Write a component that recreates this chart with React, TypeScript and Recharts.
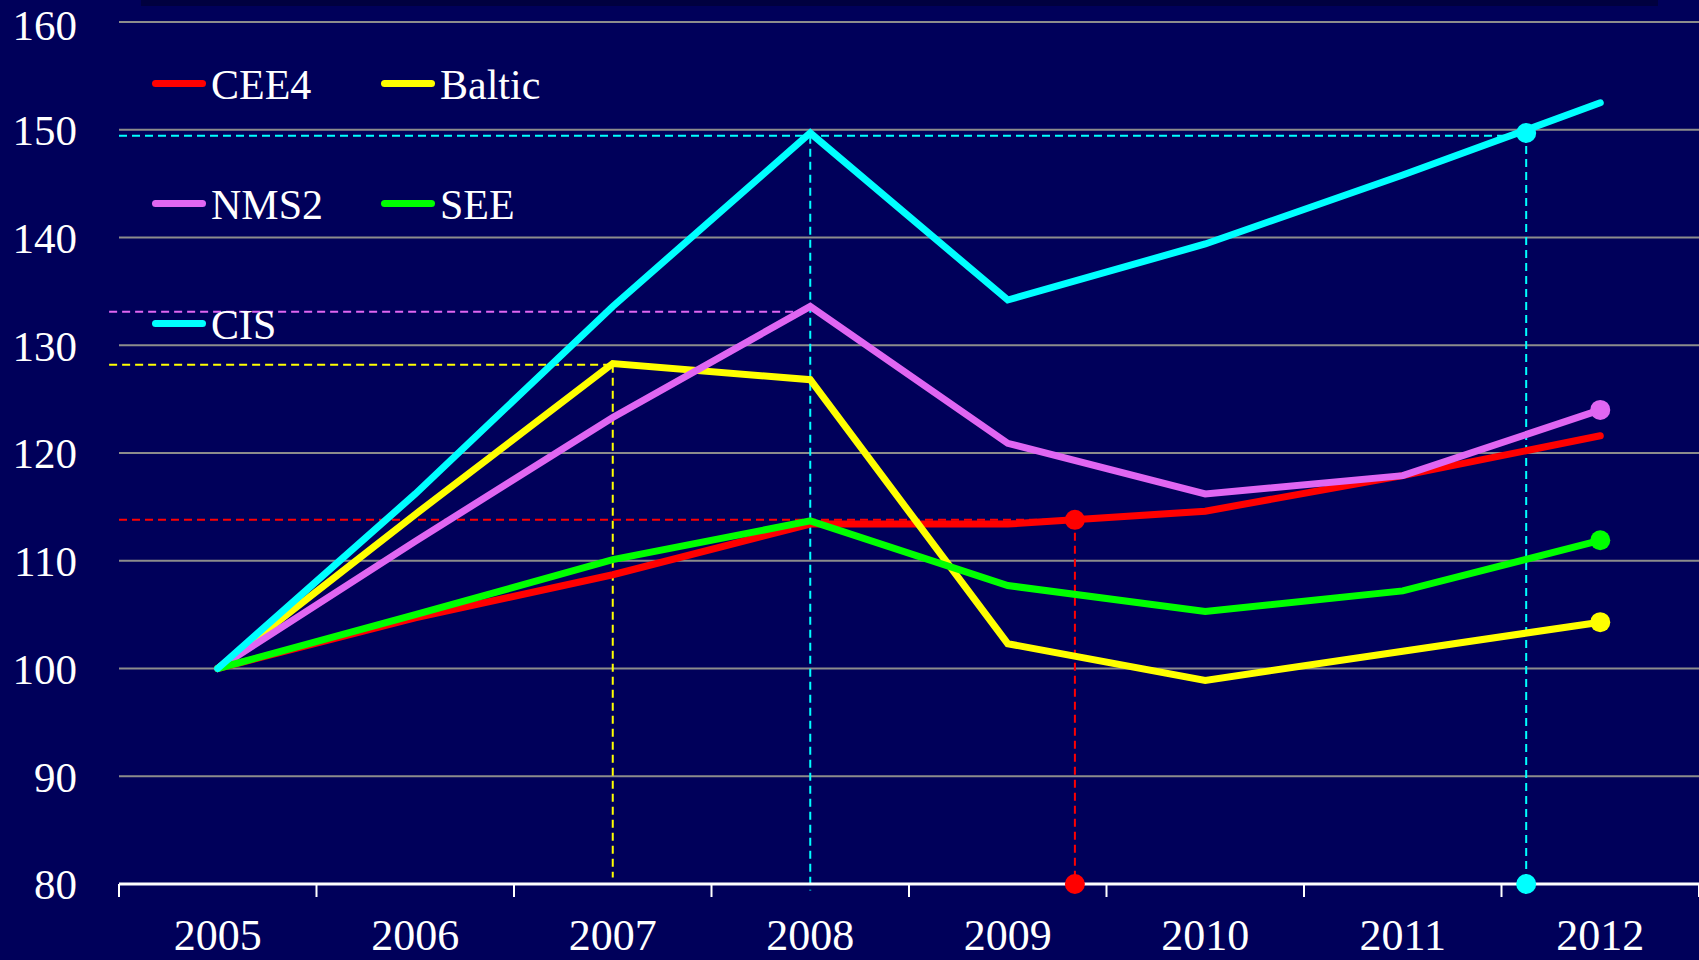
import React from "react";
import {
  CartesianGrid,
  Legend,
  Line,
  LineChart,
  ReferenceDot,
  ReferenceLine,
  XAxis,
  YAxis,
} from "recharts";

const years = [2005, 2006, 2007, 2008, 2009, 2010, 2011, 2012];
const cee4 = [100, 104.7, 108.7, 113.4, 113.4, 114.6, 117.9, 121.6];
const baltic = [100, 114.3, 128.3, 126.8, 102.3, 98.9, 101.6, 104.3];
const nms2 = [100, 111.8, 123.3, 133.6, 120.9, 116.2, 117.9, 124.0];
const see = [100, 105.0, 110.1, 113.7, 107.7, 105.3, 107.2, 111.9];
const cis = [100, 116.2, 133.6, 149.7, 134.2, 139.4, 145.8, 152.5];

const yTicks = [80, 90, 100, 110, 120, 130, 140, 150, 160];
const tickEdges = [2004.5, 2005.5, 2006.5, 2007.5, 2008.5, 2009.5, 2010.5, 2011.5, 2012.5];

const series = [
  { key: "CEE4", values: cee4, color: "#ff0000", endDot: false },
  { key: "Baltic", values: baltic, color: "#ffff00", endDot: true },
  { key: "NMS2", values: nms2, color: "#e066f2", endDot: true },
  { key: "SEE", values: see, color: "#00ff00", endDot: true },
  { key: "CIS", values: cis, color: "#00ffff", endDot: false },
];

// dashed guide lines: [x1, y1, x2, y2, color]
const guides: [number, number, number, number, string][] = [
  [2004.5, 149.45, 2011.625, 149.45, "#00ffff"],
  [2008, 149.45, 2008, 79.4, "#00ffff"],
  [2011.625, 149.7, 2011.625, 80, "#00ffff"],
  [2004.45, 133.1, 2008, 133.1, "#e066f2"],
  [2004.45, 128.2, 2007, 128.2, "#ffff00"],
  [2007, 128.2, 2007, 80.6, "#ffff00"],
  [2004.5, 113.8, 2009.34, 113.8, "#ff0000"],
  [2009.34, 113.8, 2009.34, 80, "#ff0000"],
];

const markers: [number, number, string][] = [
  [2009.34, 113.8, "#ff0000"],
  [2009.34, 80, "#ff0000"],
  [2011.625, 149.7, "#00ffff"],
  [2011.625, 80, "#00ffff"],
];

const data = years.map((year, i) => {
  const row: Record<string, number> = { year };
  series.forEach((s) => (row[s.key] = s.values[i]));
  return row;
});

const FONT = "'Liberation Serif', 'Times New Roman', serif";
const BG = "#00005a";

function LegendBox() {
  return (
    <div
      style={{
        display: "grid",
        gridTemplateColumns: "229px 229px",
        gridAutoRows: "120px",
        fontFamily: FONT,
        fontSize: 42,
        color: "#fff",
      }}
    >
      {series.map((s) => (
        <div key={s.key} style={{ display: "flex", alignItems: "center" }}>
          <span
            style={{
              display: "inline-block",
              width: 54,
              height: 7,
              borderRadius: 4,
              background: s.color,
              marginRight: 5,
            }}
          />
          <span style={{ lineHeight: 1, position: "relative", top: 2 }}>{s.key}</span>
        </div>
      ))}
    </div>
  );
}

export default function App() {
  return (
    <div style={{ position: "absolute", left: 0, top: 0, width: 1699, height: 960, background: BG, overflow: "hidden" }}>
      <div style={{ position: "absolute", left: 141, top: 0, width: 1517, height: 6, background: "#00003f" }} />
      <LineChart width={1699} height={960} data={data} margin={{ top: 22, right: 0, left: 0, bottom: 0 }}>
        <CartesianGrid xAxisId="years" vertical={false} stroke="#8c8c8c" strokeWidth={2} />
        <XAxis
          xAxisId="frame"
          dataKey="year"
          type="number"
          domain={[2004.5, 2012.5]}
          ticks={tickEdges}
          height={1}
          tick={() => <g />}
          tickSize={13}
          axisLine={{ stroke: "#ffffff", strokeWidth: 3 }}
          tickLine={{ stroke: "#ffffff", strokeWidth: 2 }}
        />
        <XAxis
          xAxisId="years"
          dataKey="year"
          type="number"
          domain={[2004.5, 2012.5]}
          ticks={years}
          height={75}
          axisLine={false}
          tickLine={false}
          tickSize={0}
          tickMargin={34}
          tick={{ fill: "#ffffff", fontSize: 44, fontFamily: FONT }}
        />
        <YAxis
          type="number"
          domain={[80, 160]}
          ticks={yTicks}
          width={119}
          axisLine={false}
          tickLine={false}
          tickSize={0}
          tickMargin={42}
          tick={{ fill: "#ffffff", fontSize: 43, fontFamily: FONT }}
        />
        <Legend verticalAlign="middle" wrapperStyle={{ top: 23, left: 152, width: 500 }} content={() => <LegendBox />} />
        {guides.map(([x1, y1, x2, y2, c], i) => (
          <ReferenceLine
            key={"g" + i}
            xAxisId="years"
            segment={[{ x: x1, y: y1 }, { x: x2, y: y2 }]}
            stroke={c}
            strokeWidth={2}
            strokeDasharray="8 5"
            ifOverflow="visible"
          />
        ))}
        {series.map((s) => (
          <Line
            key={s.key}
            xAxisId="years"
            dataKey={s.key}
            stroke={s.color}
            strokeWidth={7}
            strokeLinecap="round"
            isAnimationActive={false}
            dot={(p: any) =>
              s.endDot && p.index === years.length - 1 ? (
                <circle key={p.index} cx={p.cx} cy={p.cy} r={10} fill={s.color} />
              ) : (
                <g key={p.index} />
              )
            }
            activeDot={false}
          />
        ))}
        {markers.map(([x, y, c], i) => (
          <ReferenceDot key={"m" + i} xAxisId="years" x={x} y={y} r={10} fill={c} stroke="none" ifOverflow="visible" />
        ))}
      </LineChart>
    </div>
  );
}
